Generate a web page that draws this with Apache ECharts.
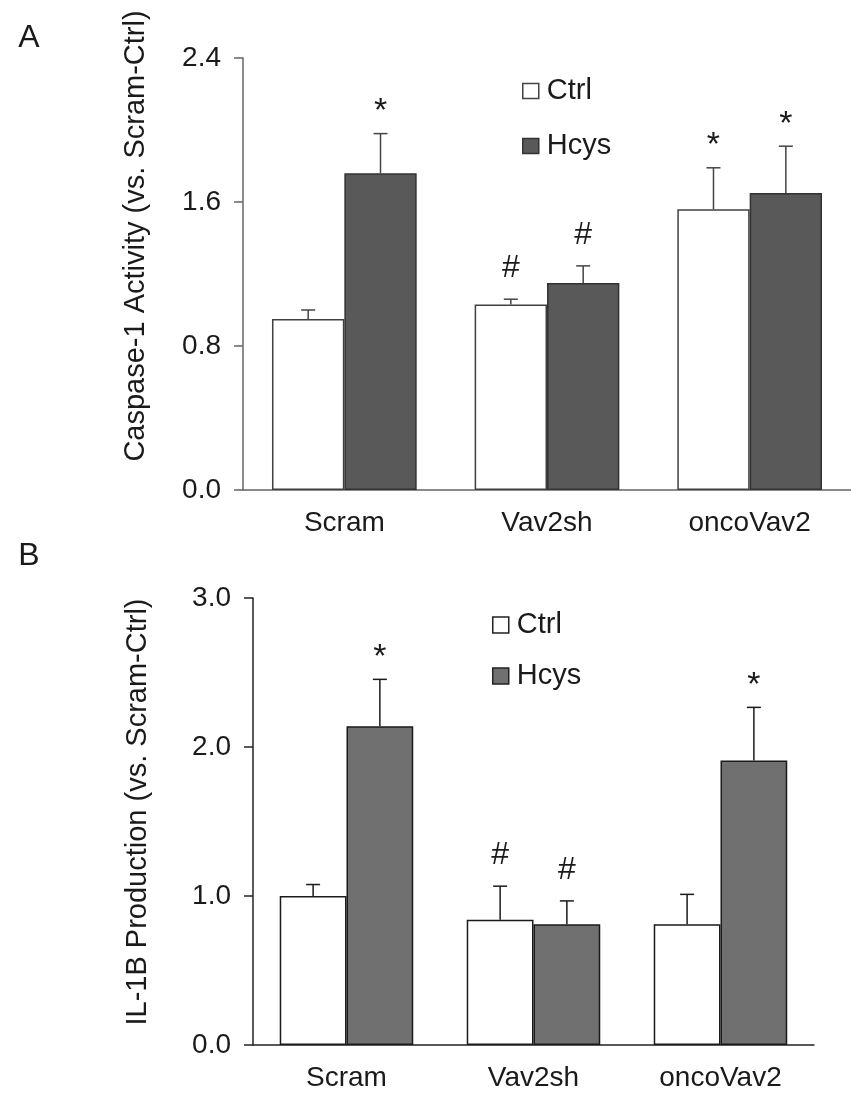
<!DOCTYPE html>
<html>
<head>
<meta charset="utf-8">
<script src="https://cdn.jsdelivr.net/npm/echarts@6/dist/echarts.min.js"></script>
<style>
html,body{margin:0;padding:0;background:#fff;}
#main{width:851px;height:1102px;}
</style>
</head>
<body>
<div id="main"></div>
<script>
// ---- data ----
const categories = ['Scram', 'Vav2sh', 'oncoVav2'];
const seriesNames = ['Ctrl', 'Hcys'];

const caspCtrl = [0.95, 1.03, 1.56];
const caspCtrlErr = [0.05, 0.03, 0.23];
const caspHcys = [1.76, 1.15, 1.65];
const caspHcysErr = [0.22, 0.095, 0.26];
const caspCtrlSig = ['', '#', '*'];
const caspHcysSig = ['*', '#', '*'];

const il1bCtrl = [1.0, 0.84, 0.81];
const il1bCtrlErr = [0.077, 0.226, 0.201];
const il1bHcys = [2.14, 0.81, 1.91];
const il1bHcysErr = [0.314, 0.157, 0.356];
const il1bCtrlSig = ['', '#', ''];
const il1bHcysSig = ['*', '#', '*'];

const yTicksA = [0, 0.8, 1.6, 2.4];
const yTicksB = [0, 1, 2, 3];

const titleA = 'Caspase-1 Activity (vs. Scram-Ctrl)';
const titleB = 'IL-1B Production (vs. Scram-Ctrl)';

// ---- chart ----
const FONT = '"Liberation Sans", Arial, sans-serif';
const TXT = '#1a1a1a';
const BAR_FRAC = 0.357;

function errSeries(vals, errs, sigs, side, color, gridIdx) {
  return {
    type: 'custom',
    xAxisIndex: gridIdx, yAxisIndex: gridIdx,
    z: 5,
    silent: true,
    data: vals.map((v, i) => [i, v, errs[i]]),
    renderItem: function (params, api) {
      const i = api.value(0), m = api.value(1), e = api.value(2);
      const band = api.size([1, 0])[0];
      const cx = api.coord([i, m])[0] + side * band * BAR_FRAC / 2;
      const yM = api.coord([i, m])[1];
      const yT = api.coord([i, m + e])[1];
      const sig = sigs[params.dataIndex];
      const children = [
        { type: 'line', shape: { x1: cx, y1: yM, x2: cx, y2: yT }, style: { stroke: color, lineWidth: 1.5 } },
        { type: 'line', shape: { x1: cx - 7, y1: yT, x2: cx + 7, y2: yT }, style: { stroke: color, lineWidth: 1.5 } }
      ];
      if (sig) {
        const star = sig === '*';
        children.push({
          type: 'text',
          style: {
            text: sig, x: cx, y: yT - (star ? 22 : 31),
            fill: TXT, font: (star ? '34px ' : '32px ') + FONT, align: 'center', verticalAlign: 'middle'
          }
        });
      }
      return { type: 'group', children: children };
    }
  };
}

function barSeries(name, vals, color, border, gridIdx) {
  return {
    type: 'bar', name: name,
    xAxisIndex: gridIdx, yAxisIndex: gridIdx,
    data: vals,
    barWidth: (BAR_FRAC * 100) + '%',
    barGap: '0%',
    itemStyle: { color: color, borderColor: border, borderWidth: 1.5 },
    emphasis: { disabled: true }
  };
}

function yAxisDef(gridIdx, ticks, color) {
  return {
    type: 'value', gridIndex: gridIdx,
    min: ticks[0], max: ticks[ticks.length - 1],
    interval: ticks[1] - ticks[0],
    axisLine: { show: true, lineStyle: { color: color, width: 1.5 } },
    axisTick: { show: true, inside: false, length: 9, lineStyle: { color: color, width: 1.5 } },
    splitLine: { show: false },
    axisLabel: { margin: 22, color: TXT, fontSize: 28, fontFamily: FONT, formatter: v => v.toFixed(1) }
  };
}

function xAxisDef(gridIdx, color) {
  return {
    type: 'category', gridIndex: gridIdx, data: categories,
    axisLine: { show: true, lineStyle: { color: color, width: 1.5 } },
    axisTick: { show: false },
    axisLabel: { margin: 19, color: TXT, fontSize: 28, fontFamily: FONT }
  };
}

const option = {
  backgroundColor: '#fff',
  animation: false,
  grid: [
    { left: 243, top: 58, width: 614, height: 432 },
    { left: 253, top: 598, width: 561, height: 447 }
  ],
  xAxis: [xAxisDef(0, '#666'), xAxisDef(1, '#222')],
  yAxis: [yAxisDef(0, yTicksA, '#666'), yAxisDef(1, yTicksB, '#222')],
  legend: [
    {
      orient: 'vertical', left: 522, top: 76, padding: 0,
      itemWidth: 16, itemHeight: 15, itemGap: 25,
      textStyle: { fontSize: 29, fontFamily: FONT, color: TXT, lineHeight: 30, padding: [0, 0, 0, 3] },
      selectedMode: false,
      data: [
        { name: seriesNames[0], icon: 'rect', itemStyle: { color: '#fff', borderColor: '#444', borderWidth: 1.5 } },
        { name: seriesNames[1], icon: 'rect', itemStyle: { color: '#595959', borderColor: '#333', borderWidth: 1.5 } }
      ]
    },
    {
      orient: 'vertical', left: 492, top: 610, padding: 0,
      itemWidth: 16, itemHeight: 16, itemGap: 21,
      textStyle: { fontSize: 29, fontFamily: FONT, color: TXT, lineHeight: 30, padding: [0, 0, 0, 3] },
      selectedMode: false,
      data: [
        { name: seriesNames[0], icon: 'rect', itemStyle: { color: '#fff', borderColor: '#222', borderWidth: 1.5 } },
        { name: seriesNames[1], icon: 'rect', itemStyle: { color: '#707070', borderColor: '#222', borderWidth: 1.5 } }
      ]
    }
  ],
  series: [
    barSeries(seriesNames[0], caspCtrl, '#ffffff', '#404040', 0),
    barSeries(seriesNames[1], caspHcys, '#595959', '#333333', 0),
    barSeries(seriesNames[0], il1bCtrl, '#ffffff', '#1a1a1a', 1),
    barSeries(seriesNames[1], il1bHcys, '#707070', '#1a1a1a', 1),
    errSeries(caspCtrl, caspCtrlErr, caspCtrlSig, -1, '#444', 0),
    errSeries(caspHcys, caspHcysErr, caspHcysSig, 1, '#444', 0),
    errSeries(il1bCtrl, il1bCtrlErr, il1bCtrlSig, -1, '#1a1a1a', 1),
    errSeries(il1bHcys, il1bHcysErr, il1bHcysSig, 1, '#1a1a1a', 1)
  ],
  graphic: [
    { type: 'text', x: 29, y: 38, style: { text: 'A', font: '32px ' + FONT, fill: TXT, align: 'center', verticalAlign: 'middle' } },
    { type: 'text', x: 29, y: 556, style: { text: 'B', font: '32px ' + FONT, fill: TXT, align: 'center', verticalAlign: 'middle' } },
    { type: 'text', x: 136, y: 236, rotation: Math.PI / 2, style: { text: titleA, font: '29px ' + FONT, fill: TXT, align: 'center', verticalAlign: 'middle' } },
    { type: 'text', x: 138, y: 812, rotation: Math.PI / 2, style: { text: titleB, font: '29px ' + FONT, fill: TXT, align: 'center', verticalAlign: 'middle' } }
  ]
};

const chart = echarts.init(document.getElementById('main'), null, { renderer: 'canvas' });
chart.setOption(option);
</script>
</body>
</html>
